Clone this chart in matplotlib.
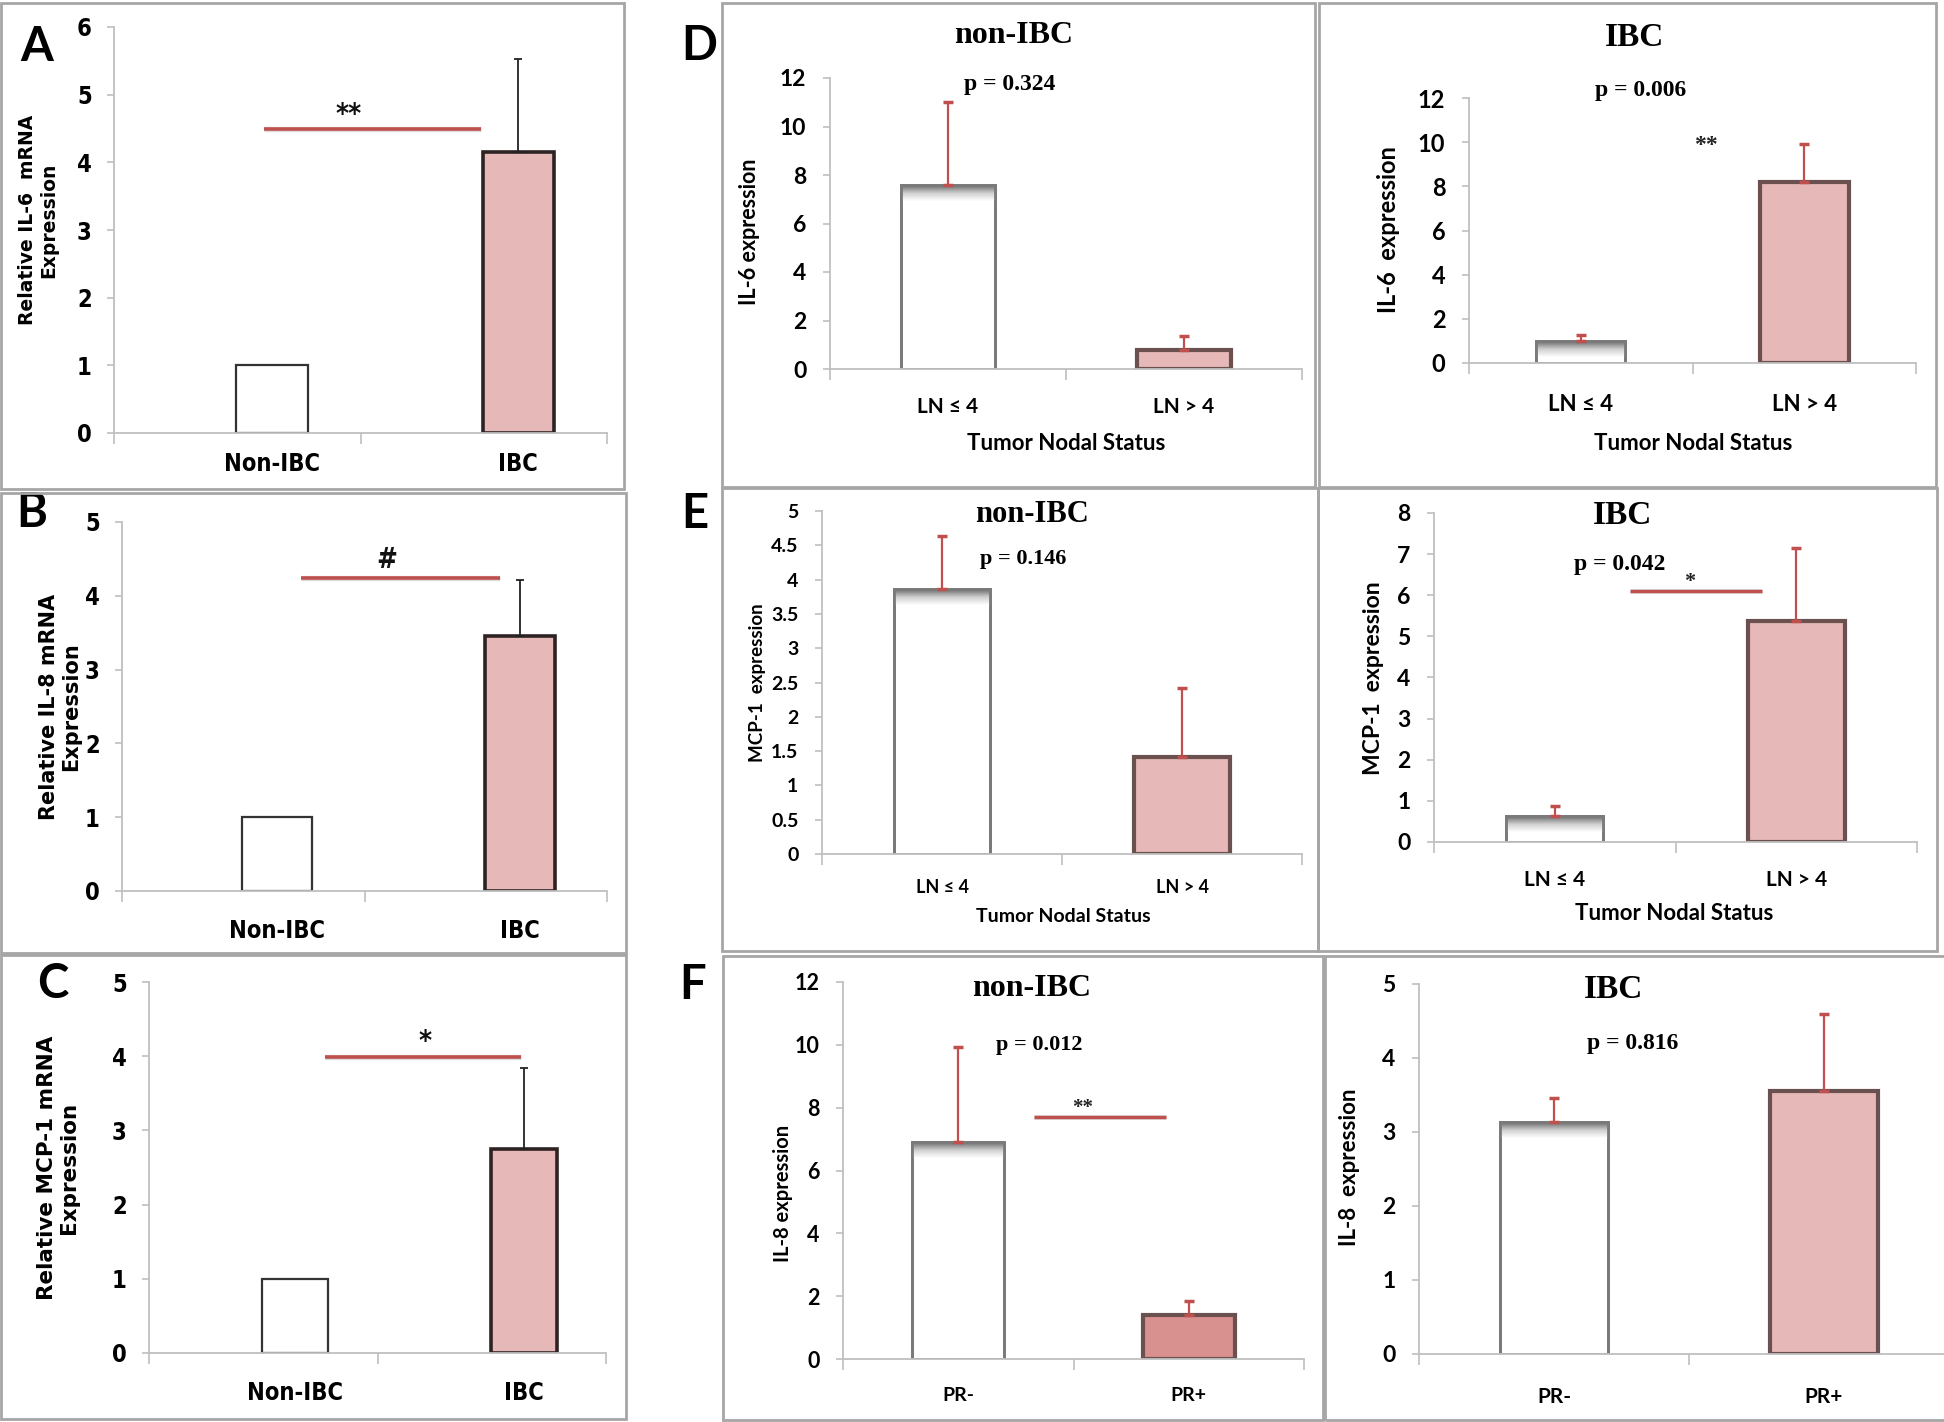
import numpy as np
import matplotlib
matplotlib.use("Agg")
import matplotlib.pyplot as plt
from matplotlib import font_manager
from matplotlib.patches import Rectangle
from matplotlib.ticker import FixedLocator, FuncFormatter

# ---------------- data ----------------
cats_group = ["Non-IBC", "IBC"]
cats_ln = ["LN \u2264 4", "LN > 4"]
cats_pr = ["PR-", "PR+"]

il6_rel = [1.0, 4.15]
il6_rel_err = [0.0, 1.38]
il8_rel = [1.0, 3.46]
il8_rel_err = [0.0, 0.75]
mcp1_rel = [1.0, 2.75]
mcp1_rel_err = [0.0, 1.09]

il6_ln_nonibc = [7.59, 0.78]
il6_ln_nonibc_err = [3.42, 0.58]
il6_ln_ibc = [1.0, 8.2]
il6_ln_ibc_err = [0.28, 1.72]

mcp1_ln_nonibc = [3.86, 1.41]
mcp1_ln_nonibc_err = [0.78, 1.01]
mcp1_ln_ibc = [0.63, 5.37]
mcp1_ln_ibc_err = [0.25, 1.78]

il8_pr_nonibc = [6.91, 1.40]
il8_pr_nonibc_err = [3.02, 0.45]
il8_pr_ibc = [3.14, 3.55]
il8_pr_ibc_err = [0.32, 1.04]

p_values = ["p = 0.324", "p = 0.006", "p = 0.146", "p = 0.042", "p = 0.012", "p = 0.816"]
sig_levels = {"A": 4.49, "B": 4.24, "C": 3.99, "E2": 6.1, "F1": 7.7}

# ---------------- fonts ----------------
plt.rcParams["font.weight"] = "bold"
plt.rcParams["axes.labelweight"] = "bold"

_fl = font_manager.fontManager.ttflist
_names = {f.name for f in _fl}
_condensed = ("condensed", "semi-condensed", "extra-condensed", "ultra-condensed")
if "Liberation Sans Narrow" in _names:
    NARROW, NARROW_STRETCH = "Liberation Sans Narrow", "normal"
elif any(f.name == "DejaVu Sans" and f.stretch in _condensed for f in _fl):
    NARROW, NARROW_STRETCH = "DejaVu Sans", "condensed"
else:
    _cands = sorted(n for n in _names if ("Narrow" in n or "Condensed" in n) and "Serif" not in n and "Mono" not in n)
    if _cands:
        NARROW, NARROW_STRETCH = _cands[0], "normal"
    elif "Liberation Sans" in _names:
        NARROW, NARROW_STRETCH = "Liberation Sans", "normal"
    else:
        NARROW, NARROW_STRETCH = "DejaVu Sans", "normal"
CAL = "Lato" if "Lato" in _names else "DejaVu Sans"
SERIF = "Liberation Serif" if "Liberation Serif" in _names else "DejaVu Serif"
WIDE = "DejaVu Sans"

W, H = 1944, 1422
fig = plt.figure(figsize=(W / 100, H / 100), dpi=100)
fig.patch.set_facecolor("white")

PINK = "#e6b8b7"
PINK_DARK = "#d9918f"
RED = "#c0504d"
SPINE = "#bfbfbf"
FRAME = "#a6a6a6"


def add_axes_px(x0, x1, ytop, ybot, stretch="normal"):
    plt.rcParams["font.stretch"] = stretch
    ax = fig.add_axes([x0 / W, 1 - ybot / H, (x1 - x0) / W, (ybot - ytop) / H])
    return ax


def frame(x0, y0, x1, y1):
    fig.add_artist(Rectangle((x0 / W, 1 - y1 / H), (x1 - x0) / W, (y1 - y0) / H,
                             transform=fig.transFigure, fill=False,
                             edgecolor=FRAME, lw=2.0, zorder=5))


def px2ax(ax, px, py):
    return ax.transAxes.inverted().transform((px, H - py))


def fp(family, size, stretch="normal"):
    return font_manager.FontProperties(family=family, weight="bold", size=size, stretch=stretch)


def style_axes(ax, ymax, yticks, yfam, ysize, cats, xpos, xfam, xsize, xpad, ypad=11):
    ax.set_facecolor("none")
    for s in ("top", "right"):
        ax.spines[s].set_visible(False)
    for s in ("left", "bottom"):
        ax.spines[s].set_color(SPINE)
        ax.spines[s].set_linewidth(1.3)
    ax.set_xlim(0, 2)
    ax.set_ylim(0, ymax)
    ax.yaxis.set_major_locator(FixedLocator(yticks))
    ax.yaxis.set_major_formatter(FuncFormatter(lambda v, p: "%g" % v))
    ax.tick_params(axis="y", length=5, width=1.2, color=SPINE, pad=ypad,
                   labelsize=ysize, labelfontfamily=yfam)
    ax.xaxis.set_major_locator(FixedLocator([0, 1, 2]))
    ax.xaxis.set_major_formatter(FuncFormatter(lambda v, p: ""))
    ax.tick_params(axis="x", which="major", length=8, width=1.2, color=SPINE, direction="out")
    ax.xaxis.set_minor_locator(FixedLocator(list(xpos)))
    ax.xaxis.set_minor_formatter(FuncFormatter(lambda v, p: cats[int(np.argmin(np.abs(np.array(xpos) - v)))]))
    ax.tick_params(axis="x", which="minor", length=0, pad=xpad, labelsize=xsize,
                   labelfontfamily=xfam)


def sig_line(ax, x0, x1, y, lw=2.6):
    ax.plot([x0, x1], [y, y], color="#999999", lw=lw + 1.2, alpha=0.35,
            solid_capstyle="butt", zorder=3)
    ax.plot([x0, x1], [y, y], color=RED, lw=lw, solid_capstyle="butt", zorder=4)


def gradient_top(ax, x, w, h, ymax, axis_px_height, band_px=16):
    band = min(h, band_px * ymax / axis_px_height)
    grad = np.linspace(0, 1, 64).reshape(-1, 1)
    cmap = matplotlib.colors.LinearSegmentedColormap.from_list("g", ["#ffffff", "#cfcfcf", "#6a6a6a"])
    ax.imshow(grad, extent=[x - w / 2, x + w / 2, h - band, h], origin="lower",
              aspect="auto", cmap=cmap, zorder=2.1, interpolation="bicubic")
    ax.set_xlim(0, 2)
    ax.set_ylim(0, ymax)


# ---------------- left column (A, B, C) ----------------
left_panels = [
    dict(key="A", vals=il6_rel, err=il6_rel_err, ymax=6, yticks=list(range(0, 7)),
         ax_px=(114, 607, 27, 433), box=(1, 3, 624, 489), xpad=14,
         ylabel="Relative IL-6  mRNA\nExpression", ylab_px=(38, 220), ylab_size=13.5,
         sig_txt="**", sig_xy=(0.95, 4.58), line=(0.61, 1.49), letter_px=(37, 47)),
    dict(key="B", vals=il8_rel, err=il8_rel_err, ymax=5, yticks=list(range(0, 6)),
         ax_px=(122, 607, 522, 891), box=(1, 493, 626, 953), xpad=20,
         ylabel="Relative IL-8 mRNA\nExpression", ylab_px=(60, 707), ylab_size=15,
         sig_txt="#", sig_xy=(1.09, 4.38), line=(0.74, 1.56), letter_px=(32, 513)),
    dict(key="C", vals=mcp1_rel, err=mcp1_rel_err, ymax=5, yticks=list(range(0, 6)),
         ax_px=(149, 606, 982, 1353), box=(1, 955, 626, 1419), xpad=20,
         ylabel="Relative MCP-1 mRNA\nExpression", ylab_px=(58, 1168), ylab_size=15.5,
         sig_txt="*", sig_xy=(1.21, 4.08), line=(0.77, 1.63), letter_px=(53, 984)),
]

bar_pos_lr = np.array([0.64, 1.64])
for P in left_panels:
    x0, x1, yt, yb = P["ax_px"]
    ax = add_axes_px(x0, x1, yt, yb, NARROW_STRETCH)
    style_axes(ax, P["ymax"], P["yticks"], NARROW, 17, cats_group,
               bar_pos_lr, NARROW, 17, P["xpad"])
    plt.rcParams["font.stretch"] = "normal"
    w = 0.29
    ax.bar(bar_pos_lr[0], P["vals"][0], width=w, color="white", edgecolor="#333333",
           lw=1.6, zorder=2)
    ax.bar(bar_pos_lr[1], P["vals"][1], width=w, color=PINK, edgecolor="#2e2222",
           lw=2.6, zorder=2)
    errs = np.array(P["err"])
    m = errs > 0
    ax.errorbar(bar_pos_lr[m], np.array(P["vals"])[m], yerr=[np.zeros(m.sum()), errs[m]],
                fmt="none", ecolor="#222222", elinewidth=1.3, capsize=3, capthick=1.3, zorder=3)
    sig_line(ax, P["line"][0], P["line"][1], sig_levels[P["key"]])
    ax.text(P["sig_xy"][0], P["sig_xy"][1], P["sig_txt"], ha="center", va="baseline",
            fontproperties=fp(NARROW, 20, NARROW_STRETCH), color="#111111")
    ax.set_ylabel(P["ylabel"], fontproperties=fp(WIDE, P["ylab_size"]), linespacing=1.15)
    ax.yaxis.label.set(va="center", ha="center", rotation_mode="anchor", multialignment="center")
    ax.yaxis.set_label_coords(*px2ax(ax, *P["ylab_px"]))
    frame(*P["box"])
    fig.text(P["letter_px"][0] / W, 1 - P["letter_px"][1] / H, P["key"], ha="center",
             va="center", fontproperties=fp(CAL, 34))

# ---------------- right columns (D, E, F) ----------------
right_panels = [
    dict(vals=il6_ln_nonibc, err=il6_ln_nonibc_err, ymax=12, yticks=list(range(0, 13, 2)),
         ax_px=(830, 1302, 78, 369), box=(722, 3, 1315, 487), cats=cats_ln,
         title="non-IBC", title_xy=(0.78, 13.75), title_size=23,
         p=p_values[0], p_xy=(0.76, 11.75), p_size=17,
         ylabel="IL-6 expression", ylab_px=(750, 232), ylab_size=15.5,
         xlabel="Tumor Nodal Status", xlab_px=(1066, 443), xlab_size=16,
         ytick_size=16.5, xtick_size=15, xpad=20, right_color=PINK),
    dict(vals=il6_ln_ibc, err=il6_ln_ibc_err, ymax=12, yticks=list(range(0, 13, 2)),
         ax_px=(1469, 1916, 98, 363), box=(1319, 3, 1936, 487), cats=cats_ln,
         title="IBC", title_xy=(0.74, 14.75), title_size=24,
         p=p_values[1], p_xy=(0.77, 12.35), p_size=17,
         ylabel="IL-6  expression", ylab_px=(1389, 230), ylab_size=17,
         xlabel="Tumor Nodal Status", xlab_px=(1693, 443), xlab_size=16,
         ytick_size=17, xtick_size=16, xpad=22, right_color=PINK,
         star="**", star_xy=(1.06, 9.6), star_size=17),
    dict(vals=mcp1_ln_nonibc, err=mcp1_ln_nonibc_err, ymax=5,
         yticks=[0, 0.5, 1, 1.5, 2, 2.5, 3, 3.5, 4, 4.5, 5],
         ax_px=(822, 1302, 511, 854), box=(722, 488, 1318, 951), cats=cats_ln,
         title="non-IBC", title_xy=(0.875, 4.95), title_size=22,
         p=p_values[2], p_xy=(0.84, 4.3), p_size=16,
         ylabel="MCP-1  expression", ylab_px=(758, 683), ylab_size=13.5,
         xlabel="Tumor Nodal Status", xlab_px=(1063, 917), xlab_size=14,
         ytick_size=14, xtick_size=13, xpad=18, right_color=PINK),
    dict(vals=mcp1_ln_ibc, err=mcp1_ln_ibc_err, ymax=8, yticks=list(range(0, 9)),
         ax_px=(1434, 1917, 513, 842), box=(1318, 488, 1937, 951), cats=cats_ln,
         title="IBC", title_xy=(0.78, 7.93), title_size=24,
         p=p_values[3], p_xy=(0.77, 6.74), p_size=17,
         ylabel="MCP-1  expression", ylab_px=(1373, 678), ylab_size=16.5,
         xlabel="Tumor Nodal Status", xlab_px=(1674, 913), xlab_size=16,
         ytick_size=16.5, xtick_size=15, xpad=20, right_color=PINK,
         star="*", star_xy=(1.06, 6.2), star_size=16, line=(0.81, 1.36), line_key="E2"),
    dict(vals=il8_pr_nonibc, err=il8_pr_nonibc_err, ymax=12, yticks=list(range(0, 13, 2)),
         ax_px=(843, 1304, 982, 1359), box=(723, 956, 1323, 1420), cats=cats_pr,
         title="non-IBC", title_xy=(0.82, 11.8), title_size=23,
         p=p_values[4], p_xy=(0.85, 10.0), p_size=16,
         ylabel="IL-8 expression", ylab_px=(783, 1193), ylab_size=14.5,
         ytick_size=15.5, xtick_size=14, xpad=20, right_color=PINK_DARK,
         star="**", star_xy=(1.04, 7.83), star_size=15, line=(0.83, 1.40), line_key="F1"),
    dict(vals=il8_pr_ibc, err=il8_pr_ibc_err, ymax=5, yticks=list(range(0, 6)),
         ax_px=(1419, 1959, 984, 1354), box=(1325, 956, 1960, 1420), cats=cats_pr,
         title="IBC", title_xy=(0.72, 4.93), title_size=24,
         p=p_values[5], p_xy=(0.79, 4.2), p_size=17,
         ylabel="IL-8  expression", ylab_px=(1350, 1167), ylab_size=16,
         ytick_size=16.5, xtick_size=15, xpad=24, right_color=PINK),
]

bar_pos_r = np.array([0.5, 1.5])
for P in right_panels:
    x0, x1, yt, yb = P["ax_px"]
    ax = add_axes_px(x0, x1, yt, yb)
    style_axes(ax, P["ymax"], P["yticks"], CAL, P["ytick_size"], P["cats"], bar_pos_r,
               CAL, P["xtick_size"], P["xpad"], ypad=12)
    w = 0.40
    ax.bar(bar_pos_r[0], P["vals"][0], width=w, color="white", edgecolor="#7a7a7a",
           lw=2.0, zorder=2)
    gradient_top(ax, bar_pos_r[0], w * 0.985, P["vals"][0], P["ymax"], yb - yt)
    ax.bar(bar_pos_r[0], P["vals"][0], width=w, color="none", edgecolor="#7a7a7a",
           lw=2.0, zorder=2.2)
    ax.bar(bar_pos_r[1], P["vals"][1], width=w, color=P["right_color"], edgecolor="#6b5050",
           lw=3.0, zorder=2)
    ax.errorbar(bar_pos_r, P["vals"], yerr=[np.zeros(2), P["err"]], fmt="none",
                ecolor=RED, elinewidth=1.6, capsize=3.5, capthick=2.5, zorder=3)
    ax.text(*P["title_xy"], P["title"], ha="center", va="center",
            fontproperties=fp(SERIF, P["title_size"]), clip_on=False)
    ax.text(*P["p_xy"], P["p"], ha="center", va="center",
            fontproperties=fp(SERIF, P["p_size"]), clip_on=False)
    if "star" in P:
        ax.text(*P["star_xy"], P["star"], ha="center", va="baseline",
                fontproperties=fp(SERIF, P["star_size"]), color="#222222")
    if "line" in P:
        sig_line(ax, P["line"][0], P["line"][1], sig_levels[P["line_key"]], lw=2.4)
    ax.set_ylabel(P["ylabel"], fontproperties=fp(CAL, P["ylab_size"]))
    ax.yaxis.label.set(va="center", ha="center", rotation_mode="anchor")
    ax.yaxis.set_label_coords(*px2ax(ax, *P["ylab_px"]))
    if "xlabel" in P:
        ax.set_xlabel(P["xlabel"], fontproperties=fp(CAL, P["xlab_size"]))
        ax.xaxis.label.set(va="center", ha="center")
        ax.xaxis.set_label_coords(*px2ax(ax, *P["xlab_px"]))
    frame(*P["box"])

for key, (lx, ly) in zip(["D", "E", "F"], [(699, 46), (695, 514), (693, 985)]):
    fig.text(lx / W, 1 - ly / H, key, ha="center", va="center", fontproperties=fp(CAL, 34))

fig.savefig("out.png", dpi=100, facecolor="white")
